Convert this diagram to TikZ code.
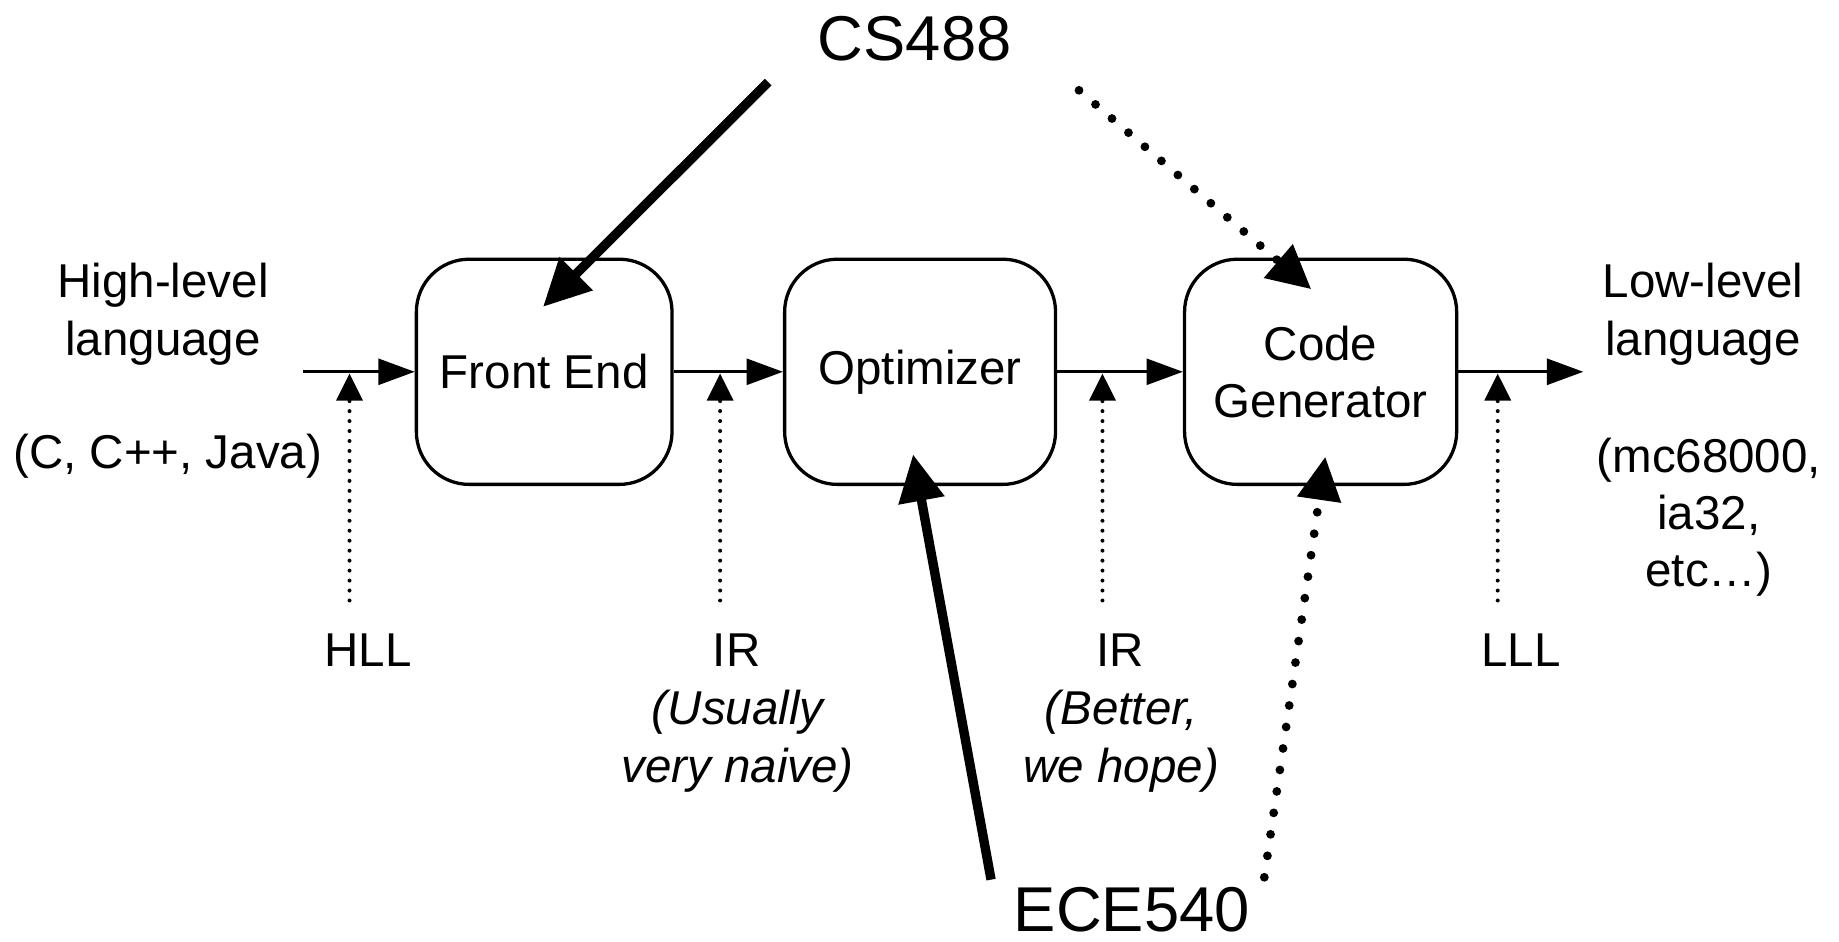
\documentclass[tikz,border=0pt]{standalone}
\usepackage{fontspec}
\setmainfont{Liberation Sans}
\usetikzlibrary{arrows.meta,calc}
\begin{document}
\begin{tikzpicture}[x=1pt,y=-1pt,
  every node/.style={font=\fontsize{40.5}{49}\selectfont, inner sep=0pt, align=center},
  stage/.style={draw, line width=2.8pt, rounded corners=45pt, minimum height=192pt},
  flow/.style={line width=2.8pt, -{Triangle[length=31pt,width=22pt]}},
  probe/.style={line width=3.4pt, line cap=round, dash pattern=on 0pt off 8.5pt,
    -{Triangle[length=23pt,width=22pt]}},
  heavy/.style={line width=8pt, -{Triangle[length=40pt,width=38pt]}},
  heavydot/.style={line width=7.5pt, line cap=round, dash pattern=on 0pt off 18.5pt,
    -{Triangle[length=37pt,width=36pt]}},
  big/.style={font=\fontsize{54}{60}\selectfont},
  note/.style={font=\fontsize{40.5}{50}\selectfont\itshape}
]
\useasboundingbox (0,0) rectangle (1568,803);

% compiler stages
\node[stage, minimum width=218pt] (fe)  at (464,317)   {Front End};
\node[stage, minimum width=231pt] (opt) at (784.5,317) {Optimizer};
\node[stage, minimum width=232pt] (cg)  at (1126,317)  {Code\\Generator};

% main data flow
\coordinate (in)  at (258,317);
\coordinate (out) at (1350,317);
\draw[flow] (in) -- (fe);
\draw[flow] (fe) -- (opt);
\draw[flow] (opt) -- (cg);
\draw[flow] (cg) -- (out);

% representation labels
\node (hll) at (314,554) {HLL};
\node (ir1) at (628,554) {IR};
\node[note] (ir1n) at (629,632) {(Usually\\very naive)};
\node (ir2) at (955,554) {IR};
\node[note] (ir2n) at (956,632) {(Better,\\we hope)};
\node (lll) at (1297,554) {LLL};

% probes from the labels up to the flow
\foreach \x/\n in {298/a, 614/b, 940/c, 1277/d} {
  \coordinate (p\n-start) at (\x,512);
  \coordinate (p\n-end)   at (\x,318.5);
  \draw[probe] (p\n-start) -- (p\n-end);
}

% source and target languages
\node (hl)  at (139,268) {High-level\\language};
\node (hlx) at (143,389) {(C, C++, Java)};
\node (ll)  at (1452,268) {Low-level\\language};
\node (llx) at (1457,441) {(mc68000,\\ia32,\\etc…)};

% courses
\node[big] (cs)  at (780,33)  {CS488};
\node[big] (ece) at (965,776) {ECE540};

\coordinate (cs-a)  at (655,70);
\coordinate (cs-b)  at (920,77);
\coordinate (ece-a) at (845,750);
\coordinate (ece-b) at (1078,748);
\coordinate (fe-in)  at ($(fe.north)+(-1,42)$);
\coordinate (cg-top) at ($(cg.north)+(-8,27)$);
\coordinate (opt-in) at ($(opt.south)+(-6,-27)$);
\coordinate (cg-bot) at ($(cg.south)+(4,-25)$);

\draw[heavy] (cs-a) -- (fe-in);
\draw[heavydot] (cs-b) -- (cg-top);
\draw[heavy] (ece-a) -- (opt-in);
\draw[heavydot] (ece-b) -- (cg-bot);
\end{tikzpicture}
\end{document}
